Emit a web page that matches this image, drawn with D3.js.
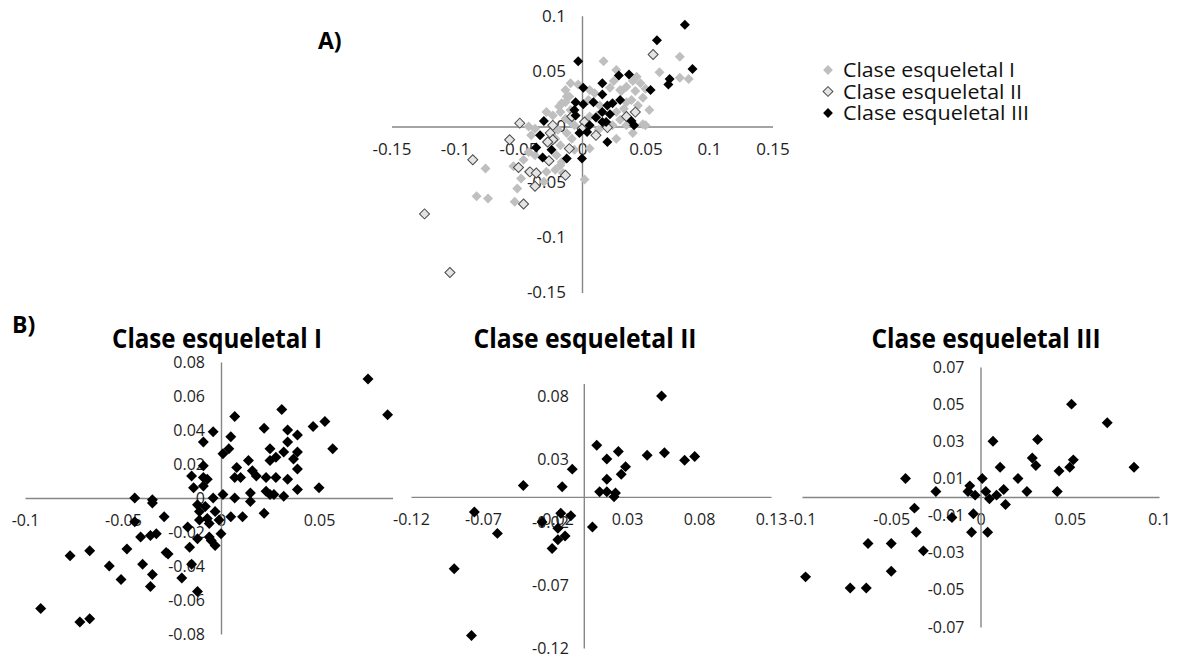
<!DOCTYPE html>
<html>
<head>
<meta charset="utf-8">
<script src="https://cdn.jsdelivr.net/npm/d3@7"></script>
<style>
  body { margin: 0; background: #fff; }
  svg { display: block; font-family: "Open Sans", sans-serif; }
</style>
</head>
<body>
<div id="chart"></div>
<script>
// ---- tick labels ----
const xTicksA = [-0.15, -0.1, -0.05, 0, 0.05, 0.1, 0.15];
const yTicksA = [-0.15, -0.1, -0.05, 0, 0.05, 0.1];
const xTicksB1 = [-0.1, -0.05, 0, 0.05];   // the 0.1 label sits under the middle chart
const yTicksB1 = [-0.08, -0.06, -0.04, -0.02, 0, 0.02, 0.04, 0.06, 0.08];
const xTicksB2 = [-0.12, -0.07, -0.02, 0.03, 0.08, 0.13];
const yTicksB2 = [-0.12, -0.07, -0.02, 0.03, 0.08];
const xTicksB3 = [-0.1, -0.05, 0, 0.05, 0.1];
const yTicksB3 = [-0.07, -0.05, -0.03, -0.01, 0.01, 0.03, 0.05, 0.07];

const seriesNames = ['Clase esqueletal I', 'Clase esqueletal II', 'Clase esqueletal III'];

// ---- A) all classes together ----
const claseI_A = [
  [0.077,0.063],[0.017,0.059],[0.061,0.049],[0.084,0.043],[0.077,0.044],[0.027,0.051],[-0.009,0.039],[-0.003,0.038],
  [0.043,0.045],[0.046,0.039],[0.040,0.041],[0.025,0.041],[0.022,0.035],[0.035,0.036],[0.031,0.032],[0.042,0.032],
  [0.048,0.026],[0.039,0.024],[0.044,0.019],[0.035,0.022],[0.033,0.016],[0.027,0.013],[0.030,0.006],[0.035,0.001],
  [0.048,0.002],[0.040,-0.006],[0.027,-0.011],[0.012,0.010],[0.006,0.009],[0.005,0.024],[-0.012,0.027],[-0.016,0.021],
  [-0.009,0.015],[-0.017,0.013],[-0.023,0.010],[-0.028,0.013],[-0.013,0.007],[-0.009,0.004],[-0.042,0.000],[-0.037,-0.002],
  [-0.040,-0.008],[-0.019,-0.003],[-0.012,-0.006],[-0.008,-0.011],[-0.021,-0.011],[-0.028,-0.014],[-0.017,-0.017],[-0.042,-0.023],
  [-0.037,-0.026],[-0.046,-0.030],[-0.020,-0.026],[-0.016,-0.032],[-0.006,-0.021],[-0.054,-0.036],[-0.042,-0.041],[-0.021,-0.039],
  [-0.028,-0.041],[-0.051,-0.056],[-0.048,-0.047],[-0.053,-0.068],[-0.030,-0.050],[0.002,-0.048],[-0.076,-0.038],[-0.083,-0.063],
  [-0.074,-0.065],[0.010,0.030],[0.006,-0.020],[-0.017,-0.035],[-0.015,-0.042],[0.050,0.034],[0.050,0.001],[-0.013,0.033],
  [-0.010,0.027],[-0.013,0.022],[-0.018,0.018],[0.006,0.033],[0.014,0.019],[0.024,0.001],[0.013,-0.003],[-0.006,0.001],
  [0.030,0.033],[0.053,0.015]
];
const claseII_A = [
  [0.056,0.065],[-0.008,0.009],[0.002,0.004],[0.035,0.009],[0.042,0.013],[0.020,-0.001],[0.011,-0.008],[-0.049,0.003],
  [-0.023,0.001],[-0.025,-0.006],[-0.023,-0.012],[-0.057,-0.012],[-0.027,-0.014],[-0.010,-0.020],[-0.026,-0.031],[-0.050,-0.037],
  [-0.041,-0.041],[-0.036,-0.042],[-0.013,-0.044],[-0.037,-0.054],[-0.046,-0.070],[-0.086,-0.030],[-0.124,-0.079],[-0.104,-0.132],
  [0.000,-0.002]
];
const claseIII_A = [
  [0.081,0.092],[0.059,0.078],[-0.003,0.059],[0.087,0.052],[0.029,0.046],[0.037,0.047],[0.069,0.043],[0.068,0.038],
  [0.054,0.033],[0.016,0.039],[0.001,0.035],[0.016,0.029],[0.030,0.024],[0.009,0.022],[-0.005,0.022],[0.001,0.020],
  [0.020,0.019],[0.024,0.021],[-0.006,0.015],[-0.005,0.010],[0.022,0.011],[0.011,0.008],[0.016,0.004],[0.019,0.004],
  [0.039,0.005],[0.041,0.001],[-0.030,0.005],[0.006,0.001],[-0.002,-0.006],[0.004,-0.005],[0.020,-0.014],[-0.033,-0.008],
  [-0.036,-0.019],[-0.024,-0.021],[-0.031,-0.028],[-0.012,-0.029],[0.000,-0.029],[0.016,0.013]
];

// ---- B) one class per chart ----
const claseI_B = [
  [0.075,0.070],[0.085,0.049],[0.031,0.052],[0.007,0.048],[-0.004,0.039],[0.005,0.036],[0.004,0.029],[0.001,0.026],
  [0.022,0.041],[0.034,0.040],[0.039,0.037],[0.047,0.042],[0.053,0.045],[0.057,0.029],[0.025,0.029],[0.034,0.033],
  [0.032,0.027],[0.039,0.027],[0.028,0.024],[0.025,0.022],[0.037,0.023],[0.014,0.022],[0.008,0.018],[0.039,0.017],
  [0.016,0.016],[0.018,0.013],[0.007,0.012],[0.010,0.012],[0.023,0.012],[0.028,0.012],[0.034,0.011],[0.039,0.005],
  [0.050,0.006],[0.023,0.004],[0.025,0.002],[0.027,0.002],[0.015,0.003],[0.015,-0.002],[0.032,0.001],[0.007,0.000],
  [0.001,0.002],[-0.004,0.000],[0.022,-0.009],[0.005,-0.011],[0.011,-0.011],[-0.009,0.033],[-0.009,0.019],[-0.015,0.013],
  [-0.009,0.012],[-0.007,0.011],[-0.014,0.006],[-0.009,0.007],[-0.044,0.000],[-0.035,-0.001],[-0.035,-0.003],[-0.012,-0.004],
  [-0.008,-0.005],[-0.011,-0.008],[-0.003,-0.008],[-0.029,-0.011],[-0.011,-0.013],[-0.007,-0.012],[-0.001,-0.013],[-0.006,-0.015],
  [-0.044,-0.014],[-0.017,-0.017],[0.000,-0.021],[-0.041,-0.023],[-0.036,-0.022],[-0.033,-0.021],[-0.012,-0.024],[-0.006,-0.023],
  [-0.005,-0.025],[-0.003,-0.028],[-0.048,-0.030],[-0.028,-0.032],[-0.027,-0.033],[-0.016,-0.029],[-0.040,-0.039],[-0.015,-0.039],
  [-0.067,-0.031],[-0.077,-0.034],[-0.057,-0.040],[-0.035,-0.045],[-0.051,-0.048],[-0.036,-0.052],[-0.020,-0.047],[-0.012,-0.055],
  [-0.092,-0.065],[-0.072,-0.073],[-0.067,-0.071]
];
const claseII_B = [
  [0.054,0.080],[0.009,0.041],[0.024,0.036],[0.016,0.030],[0.044,0.033],[0.056,0.035],[0.070,0.029],[0.077,0.032],
  [0.029,0.024],[0.026,0.018],[0.016,0.014],[-0.008,0.022],[-0.042,0.009],[-0.015,0.008],[0.011,0.004],[0.016,0.004],
  [0.022,0.003],[0.021,0.000],[-0.076,-0.012],[-0.060,-0.029],[-0.029,-0.020],[-0.016,-0.013],[-0.009,-0.015],[-0.018,-0.025],
  [-0.013,-0.031],[-0.018,-0.034],[-0.022,-0.041],[0.006,-0.024],[-0.090,-0.057],[-0.078,-0.110]
];
const claseIII_B = [
  [0.051,0.050],[0.071,0.040],[0.007,0.030],[0.032,0.031],[0.029,0.021],[0.031,0.017],[0.011,0.016],[0.052,0.020],
  [0.050,0.016],[0.044,0.014],[0.086,0.016],[-0.042,0.010],[0.001,0.010],[0.021,0.010],[-0.025,0.003],[-0.006,0.006],
  [-0.007,0.003],[0.003,0.003],[0.013,0.004],[0.026,0.003],[0.043,0.003],[-0.003,0.001],[0.005,-0.001],[0.009,0.001],
  [0.014,-0.004],[-0.037,-0.006],[-0.016,-0.011],[-0.004,-0.009],[-0.036,-0.019],[-0.005,-0.019],[0.004,-0.019],[-0.063,-0.025],
  [-0.050,-0.025],[-0.032,-0.029],[-0.050,-0.040],[-0.098,-0.043],[-0.073,-0.049],[-0.064,-0.049]
];

// marker styles per class
const styles = [
  { fill: '#bfbfbf', stroke: 'none' },
  { fill: '#e4e4e4', stroke: '#4a4a4a' },
  { fill: '#000', stroke: 'none' }
];

const svg = d3.select('#chart').append('svg')
  .attr('width', 1181)
  .attr('height', 658);

const fmt = v => String(+v.toFixed(2));

function drawPanel(p) {
  const x = d3.scaleLinear().domain(p.xDomain).range(p.xRange);
  const y = d3.scaleLinear().domain(p.yDomain).range(p.yRange);
  const g = svg.append('g');

  // white chart area (covers the panel underneath, like the original layout)
  if (p.bg) {
    g.append('rect')
      .attr('x', p.bg[0]).attr('y', p.bg[1])
      .attr('width', p.bg[2]).attr('height', p.bg[3])
      .attr('fill', '#fff');
  }

  const xAxis = g.append('g')
    .attr('transform', `translate(0,${y(0)})`)
    .call(d3.axisBottom(x).tickValues(p.xTicks).tickSize(0).tickSizeOuter(0)
      .tickPadding(p.xPad).tickFormat(fmt));
  const yAxis = g.append('g')
    .attr('transform', `translate(${x(0)},0)`)
    .call(d3.axisLeft(y).tickValues(p.yTicks).tickSize(0).tickSizeOuter(0)
      .tickPadding(p.yPad).tickFormat(fmt));

  [xAxis, yAxis].forEach(a => {
    a.attr('font-family', null).attr('font-size', null);
    a.select('.domain').attr('stroke', '#868686').attr('stroke-width', 1.4);
    a.selectAll('text').attr('fill', '#1e1e1e').style('font-size', p.fontSize + 'px');
  });

  const sym = d3.symbol(d3.symbolSquare, p.markerSize);
  p.series.forEach(s => {
    g.append('g').selectAll('path')
      .data(s.data)
      .join('path')
      .attr('d', sym)
      .attr('transform', d => `translate(${x(d[0])},${y(d[1])}) rotate(45)`)
      .attr('fill', styles[s.cls].fill)
      .attr('stroke', styles[s.cls].stroke)
      .attr('stroke-width', 1);
  });
}

// A)
drawPanel({
  xDomain: [-0.15, 0.15], xRange: [391.5, 772.5],
  yDomain: [-0.15, 0.1], yRange: [292.5, 15.8],
  xTicks: xTicksA, yTicks: yTicksA,
  xPad: 16, yPad: 16, fontSize: 17, markerSize: 50,
  series: [{ data: claseI_A, cls: 0 }, { data: claseII_A, cls: 1 }, { data: claseIII_A, cls: 2 }]
});

// B) three charts, drawn left to right so each one covers the previous edge
drawPanel({
  xDomain: [-0.1, 0.1], xRange: [25, 417],
  yDomain: [-0.08, 0.08], yRange: [634, 362],
  xTicks: xTicksB1, yTicks: yTicksB1,
  xPad: 17, yPad: 16, fontSize: 16, markerSize: 60,
  series: [{ data: claseI_B, cls: 2 }]
});
drawPanel({
  bg: [393, 366, 397, 292],
  xDomain: [-0.12, 0.13], xRange: [411, 771],
  yDomain: [-0.12, 0.09], yRange: [648, 383.5],
  xTicks: xTicksB2, yTicks: yTicksB2,
  xPad: 17, yPad: 15, fontSize: 16, markerSize: 60,
  series: [{ data: claseII_B, cls: 2 }]
});
drawPanel({
  xDomain: [-0.1, 0.1], xRange: [802, 1159],
  yDomain: [-0.07, 0.07], yRange: [627, 367],
  xTicks: xTicksB3, yTicks: yTicksB3,
  xPad: 17, yPad: 16, fontSize: 16, markerSize: 60,
  series: [{ data: claseIII_B, cls: 2 }]
});

// legend of A)
const legend = svg.append('g').attr('transform', 'translate(828,70)');
seriesNames.forEach((name, i) => {
  const row = legend.append('g').attr('transform', `translate(0,${i * 21.5})`);
  row.append('path')
    .attr('d', d3.symbol(d3.symbolSquare, 48))
    .attr('transform', 'rotate(45)')
    .attr('fill', styles[i].fill)
    .attr('stroke', styles[i].stroke);
  row.append('text')
    .attr('x', 15).attr('dy', '0.35em')
    .attr('textLength', [172, 179, 186][i])
    .attr('lengthAdjust', 'spacingAndGlyphs')
    .style('font-size', '20px')
    .attr('fill', '#111')
    .text(name);
});

// panel letters and titles
svg.append('text').attr('x', 318).attr('y', 49)
  .style('font-size', '23px').style('font-weight', 'bold').text('A)');
svg.append('text').attr('x', 12).attr('y', 333)
  .style('font-size', '23px').style('font-weight', 'bold').text('B)');

const titleX = [217, 585, 986];
const titleW = [210, 223, 229];
seriesNames.forEach((name, i) => {
  svg.append('text')
    .attr('x', titleX[i]).attr('y', 348)
    .attr('text-anchor', 'middle')
    .attr('textLength', titleW[i])
    .attr('lengthAdjust', 'spacingAndGlyphs')
    .style('font-size', '26px').style('font-weight', 'bold')
    .attr('fill', '#000')
    .text(name);
});
</script>
</body>
</html>
